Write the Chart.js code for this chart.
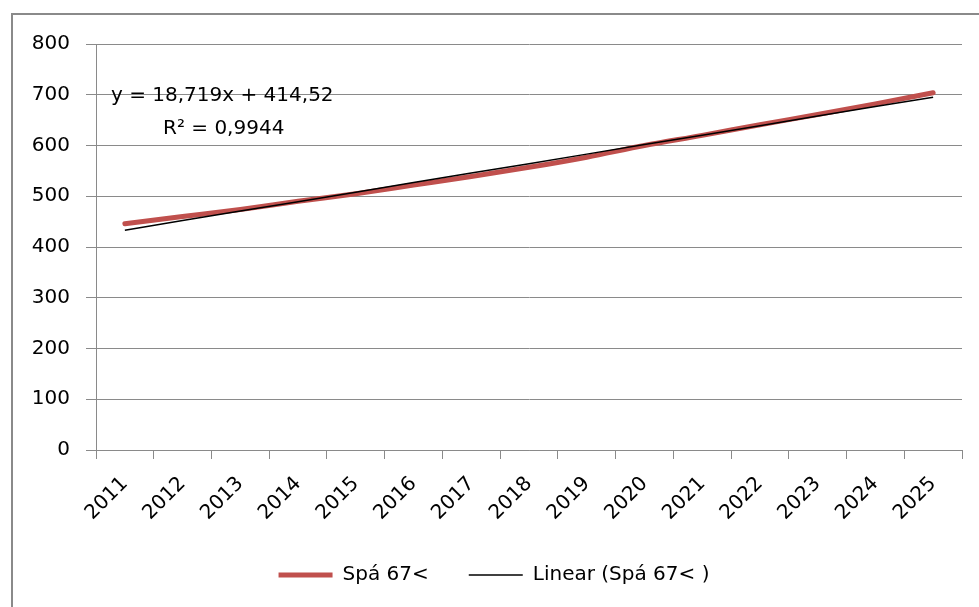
<!DOCTYPE html>
<html>
<head>
<meta charset="utf-8">
<script src="https://cdn.jsdelivr.net/npm/chart.js@4"></script>
<style>
  html, body { margin: 0; padding: 0; background: #fff; overflow: hidden; }
  #wrap { position: relative; width: 979px; height: 607px; }
</style>
</head>
<body>
<div id="wrap"><canvas id="chart"></canvas></div>
<script>
// Spá 67< with its linear trendline
const years = ['2011', '2012', '2013', '2014', '2015', '2016', '2017', '2018',
               '2019', '2020', '2021', '2022', '2023', '2024', '2025'];
const spa67 = [446, 460, 474, 490, 505, 522, 539, 557, 577, 600, 620, 641, 661, 682, 704];
const trend = [433, 452, 471, 489, 508, 527, 546, 564, 583, 602, 620, 639, 658, 677, 695];
const yTicks = [0, 100, 200, 300, 400, 500, 600, 700, 800];
const trendLabel = ['y = 18,719x + 414,52', 'R\u00b2 = 0,9944'];

const FONT = 'DejaVu Sans';
const GRID = '#8a8a8a';

// outer frame + trendline equation
const decor = {
  id: 'decor',
  beforeDraw(chart) {
    const ctx = chart.ctx;
    ctx.save();
    ctx.strokeStyle = GRID;
    ctx.lineWidth = 2;
    ctx.strokeRect(12, 14, 1000, 1000);
    ctx.restore();
  },
  afterDraw(chart) {
    const ctx = chart.ctx;
    ctx.save();
    ctx.font = `20px "${FONT}"`;
    ctx.fillStyle = '#000';
    ctx.textBaseline = 'middle';
    ctx.textAlign = 'left';
    ctx.fillText(trendLabel[0], 111, 96);
    ctx.fillText(trendLabel[1], 163, 129);
    ctx.restore();
  }
};

new Chart(document.getElementById('chart'), {
  type: 'line',
  data: {
    labels: years,
    datasets: [
      {
        label: 'Spá 67<',
        data: spa67,
        borderColor: '#C0504D',
        backgroundColor: '#C0504D',
        borderWidth: 5,
        borderCapStyle: 'round',
        cubicInterpolationMode: 'monotone',
        pointRadius: 0,
        order: 1
      },
      {
        label: 'Linear (Spá 67< )',
        data: trend,
        borderColor: '#000',
        backgroundColor: '#000',
        borderWidth: 1.5,
        tension: 0,
        pointRadius: 0,
        order: 0
      }
    ]
  },
  options: {
    responsive: true,
    maintainAspectRatio: false,
    animation: false,
    layout: { padding: { left: 26, right: 17, top: 44, bottom: 12 } },
    plugins: {
      tooltip: { enabled: false },
      legend: {
        position: 'bottom',
        labels: {
          font: { family: FONT, size: 20 },
          color: '#000',
          usePointStyle: true,
          pointStyle: 'line',
          pointStyleWidth: 54,
          padding: 40,
          sort: (a, b) => a.datasetIndex - b.datasetIndex
        }
      }
    },
    scales: {
      x: {
        offset: true,
        grid: { offset: true, drawOnChartArea: false, color: GRID, tickLength: 9 },
        border: { color: GRID, width: 1 },
        ticks: {
          font: { family: FONT, size: 20 },
          color: '#000',
          minRotation: 45,
          maxRotation: 45,
          autoSkip: false,
          padding: 13
        },
        afterFit(scale) { scale.height = 75; }
      },
      y: {
        min: 0,
        max: 800,
        afterBuildTicks(scale) { scale.ticks = yTicks.map(v => ({ value: v })); },
        grid: { color: GRID, tickLength: 10 },
        border: { color: GRID, width: 1 },
        ticks: {
          font: { family: FONT, size: 20 },
          color: '#000',
          padding: 16
        },
        afterFit(scale) { scale.width = 70; }
      }
    }
  },
  plugins: [decor]
});
</script>
</body>
</html>
